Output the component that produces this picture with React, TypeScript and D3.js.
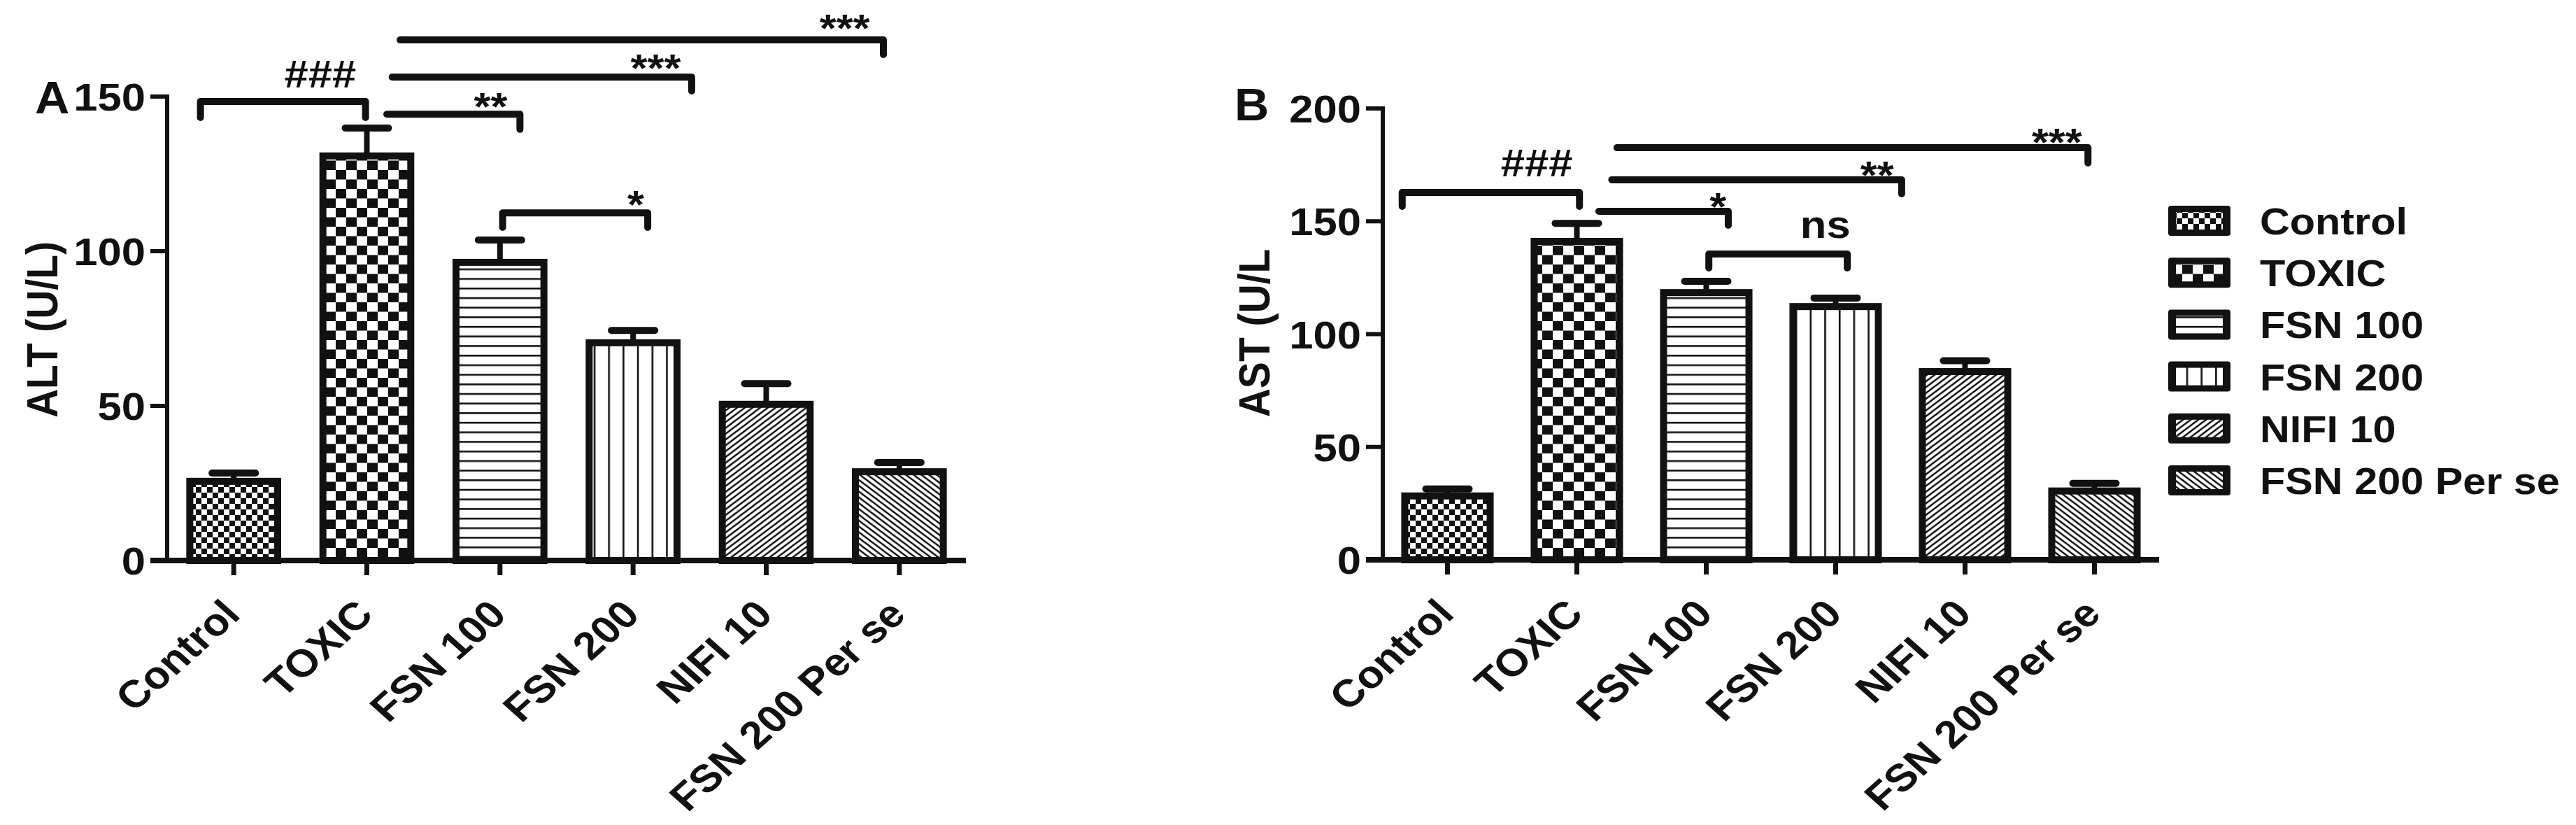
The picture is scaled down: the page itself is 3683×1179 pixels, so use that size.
import React from 'react';
import * as d3 from 'd3';

// ---------- data ----------
const categories = ['Control', 'TOXIC', 'FSN 100', 'FSN 200', 'NIFI 10', 'FSN 200 Per se'];
const altMean = [25.6, 130.8, 96.4, 70.4, 50.5, 28.7];
const altSem = [2.7, 9.0, 7.2, 4.0, 6.7, 3.0];
const astMean = [28.3, 141.1, 118.4, 112.2, 83.4, 30.5];
const astSem = [3.1, 8.0, 5.0, 3.8, 4.8, 3.4];
const altTicks = [0, 50, 100, 150];
const astTicks = [0, 50, 100, 150, 200];
const patternIds = ['pCtrl', 'pTox', 'pH', 'pV', 'pFwd', 'pBack'];

type Bracket = {
  from: number; to: number; level: number;
  dropL: number | null; dropR: number | null;
  label: string; labelAt: number; labelY: number;
};

// bracket endpoints in category-index units, levels in data units
const altBrackets: Bracket[] = [
  { from: -0.25, to: 0.99, level: 148.4, dropL: 143.2, dropR: 143.2, label: '###', labelAt: 0.65, labelY: 152.9 },
  { from: 1.15, to: 2.15, level: 144.3, dropL: null, dropR: 139.4, label: '**', labelAt: 1.93, labelY: 142.5 },
  { from: 1.19, to: 3.44, level: 156.3, dropL: null, dropR: 151.8, label: '***', labelAt: 3.17, labelY: 155.0 },
  { from: 1.25, to: 4.88, level: 168.3, dropL: null, dropR: 163.6, label: '***', labelAt: 4.59, labelY: 167.9 },
  { from: 2.02, to: 3.11, level: 112.4, dropL: 107.7, dropR: 107.7, label: '*', labelAt: 3.02, labelY: 110.9 },
];
const astBrackets: Bracket[] = [
  { from: -0.35, to: 1.02, level: 162.8, dropL: 156.6, dropR: 156.6, label: '###', labelAt: 0.69, labelY: 169.9 },
  { from: 1.17, to: 2.17, level: 154.4, dropL: null, dropR: 148.2, label: '*', labelAt: 2.09, labelY: 150.7 },
  { from: 1.27, to: 3.51, level: 168.4, dropL: null, dropR: 162.2, label: '**', labelAt: 3.32, labelY: 164.7 },
  { from: 1.31, to: 4.95, level: 182.6, dropL: null, dropR: 175.8, label: '***', labelAt: 4.71, labelY: 179.2 },
  { from: 2.02, to: 3.09, level: 135.5, dropL: 129.3, dropR: 129.3, label: 'ns', labelAt: 2.92, labelY: 142.6 },
];

// ---------- style ----------
const FONT = "'Liberation Sans', Arial, Helvetica, sans-serif";
const SX = 1.12;
const INK = '#111';

function Patterns() {
  return (
    <defs>
      <pattern id="pCtrl" patternUnits="userSpaceOnUse" width={16} height={16}>
        <rect width={16} height={16} fill="#fff" />
        <rect x={0} y={0} width={8} height={8} fill={INK} />
        <rect x={8} y={8} width={8} height={8} fill={INK} />
      </pattern>
      <pattern id="pTox" patternUnits="userSpaceOnUse" width={30} height={27}>
        <rect width={30} height={27} fill="#fff" />
        <rect x={0} y={0} width={15} height={13.5} fill={INK} />
        <rect x={15} y={13.5} width={15} height={13.5} fill={INK} />
      </pattern>
      <pattern id="pH" patternUnits="userSpaceOnUse" width={10} height={13.7}>
        <rect width={10} height={13.7} fill="#fff" />
        <rect x={0} y={0} width={10} height={2.6} fill={INK} />
      </pattern>
      <pattern id="pV" patternUnits="userSpaceOnUse" width={20.7} height={10}>
        <rect width={20.7} height={10} fill="#fff" />
        <rect x={0} y={0} width={2.6} height={10} fill={INK} />
      </pattern>
      <pattern id="pFwd" patternUnits="userSpaceOnUse" width={11} height={8.3}>
        <rect width={11} height={8.3} fill="#fff" />
        <path d="M0,8.3 L11,0 M-2.2,1.66 L2.2,-1.66 M8.8,9.96 L13.2,6.64" stroke={INK} strokeWidth={2.4} />
      </pattern>
      <pattern id="pBack" patternUnits="userSpaceOnUse" width={11} height={8.3}>
        <rect width={11} height={8.3} fill="#fff" />
        <path d="M0,0 L11,8.3 M-2.2,6.64 L2.2,9.96 M8.8,-1.66 L13.2,1.66" stroke={INK} strokeWidth={2.4} />
      </pattern>
    </defs>
  );
}

type PanelCfg = {
  x0: number; x1: number; yBottom: number; yTop: number; max: number;
  ticks: number[]; means: number[]; sems: number[]; brackets: Bracket[];
  title: string; titleX: number; titleY: number;
  letter: string; letterX: number; letterY: number;
};

function Panel({ cfg }: { cfg: PanelCfg }) {
  const x = d3.scaleBand<string>().domain(categories).range([cfg.x0, cfg.x1]).paddingInner(0.34).paddingOuter(0.17);
  const y = d3.scaleLinear().domain([0, cfg.max]).range([cfg.yBottom, cfg.yTop]);
  const bw = x.bandwidth();
  const step = x.step();
  const cx = (i: number) => (x(categories[i]) as number) + bw / 2;
  const pos = (p: number) => cx(0) + p * step;

  const bracketPath = (b: Bracket) => {
    const p = d3.path();
    if (b.dropL !== null) {
      p.moveTo(pos(b.from), y(b.dropL));
      p.lineTo(pos(b.from), y(b.level));
    } else {
      p.moveTo(pos(b.from), y(b.level));
    }
    p.lineTo(pos(b.to), y(b.level));
    if (b.dropR !== null) p.lineTo(pos(b.to), y(b.dropR));
    return p.toString();
  };

  return (
    <g>
      {/* bars */}
      {categories.map((c, i) => (
        <rect key={c} x={x(c)} y={y(cfg.means[i])} width={bw} height={y(0) - y(cfg.means[i])}
          fill={`url(#${patternIds[i]})`} stroke={INK} strokeWidth={10} />
      ))}
      {/* error bars */}
      {categories.map((c, i) => (
        <g key={c + 'e'} stroke={INK}>
          <line x1={cx(i)} x2={cx(i)} y1={y(cfg.means[i])} y2={y(cfg.means[i] + cfg.sems[i])} strokeWidth={8} />
          <line x1={cx(i) - 31} x2={cx(i) + 31} y1={y(cfg.means[i] + cfg.sems[i])} y2={y(cfg.means[i] + cfg.sems[i])}
            strokeWidth={10} strokeLinecap="round" />
        </g>
      ))}
      {/* y axis */}
      <line x1={cfg.x0} x2={cfg.x0} y1={y(cfg.max) - 3} y2={y(0)} stroke={INK} strokeWidth={6} />
      {cfg.ticks.map((t) => (
        <g key={t}>
          <line x1={cfg.x0 - 24} x2={cfg.x0} y1={y(t)} y2={y(t)} stroke={INK} strokeWidth={6} />
          <text transform={`translate(${cfg.x0 - 31},${y(t) + 20}) scale(${SX},1)`} textAnchor="end"
            fontFamily={FONT} fontWeight="bold" fontSize={55} fill={INK}>{t}</text>
        </g>
      ))}
      {/* x axis */}
      <line x1={cfg.x0 - 24} x2={cfg.x1} y1={y(0)} y2={y(0)} stroke={INK} strokeWidth={8} />
      {categories.map((c, i) => (
        <g key={c + 't'}>
          <line x1={cx(i)} x2={cx(i)} y1={y(0)} y2={y(0) + 21} stroke={INK} strokeWidth={7} />
          <text transform={`translate(${cx(i) + 12},${y(0) + 80}) scale(${SX},1) rotate(-45)`} textAnchor="end"
            fontFamily={FONT} fontWeight="bold" fontSize={55} fill={INK}>{c}</text>
        </g>
      ))}
      {/* significance brackets */}
      {cfg.brackets.map((b, k) => (
        <g key={'b' + k}>
          <path d={bracketPath(b)} fill="none" stroke={INK} strokeWidth={10} strokeLinecap="round" strokeLinejoin="round" />
          <text transform={`translate(${pos(b.labelAt)},${y(b.labelY)}) scale(${SX},1)`} textAnchor="middle"
            fontFamily={FONT} fontWeight="bold" fontSize={55} fill={INK}>{b.label}</text>
        </g>
      ))}
      {/* titles */}
      <text transform={`translate(${cfg.titleX},${cfg.titleY}) scale(${SX},1) rotate(-90)`} textAnchor="middle"
        fontFamily={FONT} fontWeight="bold" fontSize={57} fill={INK}>{cfg.title}</text>
      <text transform={`translate(${cfg.letterX},${cfg.letterY}) scale(1.05,1)`}
        fontFamily={FONT} fontWeight="bold" fontSize={65} fill={INK}>{cfg.letter}</text>
    </g>
  );
}

function Legend() {
  return (
    <g>
      {categories.map((c, i) => {
        const top = 294 + i * 74.2;
        return (
          <g key={c}>
            <rect x={3100} y={top} width={89} height={43} rx={4} fill={INK} />
            <rect x={3111} y={top + 9} width={67} height={25} fill={`url(#${patternIds[i]})`} />
            <text transform={`translate(3231,${top + 41}) scale(${SX},1)`} fontFamily={FONT} fontWeight="bold"
              fontSize={53} fill={INK}>{c}</text>
          </g>
        );
      })}
    </g>
  );
}

export default function App() {
  const panelA: PanelCfg = {
    x0: 239, x1: 1381, yBottom: 801, yTop: 138, max: 150, ticks: altTicks,
    means: altMean, sems: altSem, brackets: altBrackets,
    title: 'ALT (U/L)', titleX: 82, titleY: 471, letter: 'A', letterX: 50, letterY: 162,
  };
  const panelB: PanelCfg = {
    x0: 1977, x1: 3087, yBottom: 800, yTop: 155, max: 200, ticks: astTicks,
    means: astMean, sems: astSem, brackets: astBrackets,
    title: 'AST (U/L', titleX: 1815, titleY: 476, letter: 'B', letterX: 1765, letterY: 172,
  };
  return (
    <svg width={3683} height={1179} style={{ position: 'absolute', left: 0, top: 0, display: 'block', background: '#fff' }}>
      <Patterns />
      <rect width={3683} height={1179} fill="#fff" />
      <Panel cfg={panelA} />
      <Panel cfg={panelB} />
      <Legend />
    </svg>
  );
}
